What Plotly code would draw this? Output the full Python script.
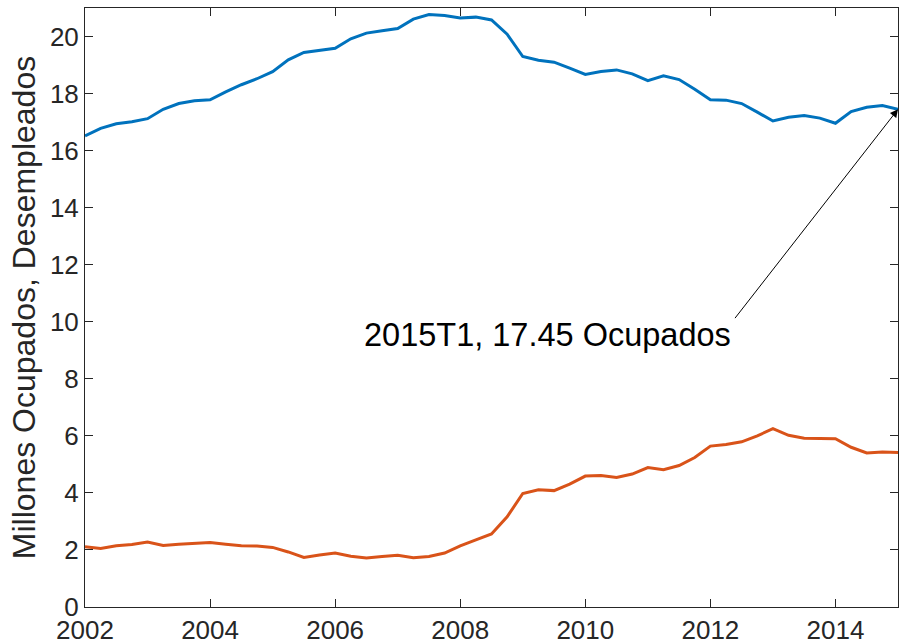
import plotly.graph_objects as go

years = [2002 + i / 4 for i in range(53)]

ocupados = [16.52, 16.78, 16.94, 17.01, 17.12, 17.45, 17.65, 17.75, 17.78, 18.06,
            18.31, 18.52, 18.77, 19.18, 19.44, 19.51, 19.59, 19.92, 20.12, 20.20,
            20.28, 20.61, 20.77, 20.74, 20.65, 20.68, 20.58, 20.08, 19.30, 19.17,
            19.10, 18.89, 18.67, 18.77, 18.83, 18.69, 18.45, 18.62, 18.49, 18.15,
            17.78, 17.77, 17.65, 17.35, 17.04, 17.17, 17.23, 17.14, 16.96, 17.37,
            17.52, 17.58, 17.45]

desempleados = [2.11, 2.05, 2.15, 2.19, 2.28, 2.16, 2.20, 2.23, 2.26, 2.20,
                2.15, 2.14, 2.09, 1.93, 1.74, 1.82, 1.89, 1.78, 1.72, 1.77,
                1.81, 1.73, 1.77, 1.89, 2.14, 2.35, 2.56, 3.16, 3.98, 4.11,
                4.08, 4.31, 4.59, 4.61, 4.54, 4.66, 4.89, 4.81, 4.96, 5.24,
                5.64, 5.70, 5.79, 6.00, 6.25, 6.02, 5.92, 5.91, 5.90, 5.60,
                5.40, 5.43, 5.42]

x_ticks = [2002, 2004, 2006, 2008, 2010, 2012, 2014]
y_ticks = [0, 2, 4, 6, 8, 10, 12, 14, 16, 18, 20]

y_title = "Millones Ocupados, Desempleados"
annot_text = "2015T1, 17.45 Ocupados"

FONT = "Liberation Sans, Arial, Helvetica, sans-serif"
AXC = "#262626"

fig = go.Figure()
fig.add_trace(go.Scatter(x=years, y=ocupados, mode="lines",
                         line=dict(color="#0072BD", width=3), showlegend=False))
fig.add_trace(go.Scatter(x=years, y=desempleados, mode="lines",
                         line=dict(color="#D95319", width=3), showlegend=False))

axis_common = dict(showgrid=False, zeroline=False, showline=True, mirror="ticks",
                   linecolor=AXC, linewidth=1, ticks="inside", ticklen=8,
                   tickcolor=AXC, tickwidth=1, automargin=False,
                   tickfont=dict(family=FONT, size=26, color=AXC))

fig.update_xaxes(range=[2002, 2015], tickvals=x_ticks,
                 ticktext=[str(t) for t in x_ticks], **axis_common)
fig.update_yaxes(range=[0, 21], tickvals=y_ticks,
                 ticktext=[str(t) for t in y_ticks],
                 title=dict(text=y_title, font=dict(family=FONT, size=32, color=AXC),
                            standoff=4),
                 **axis_common)

# arrow
fig.add_annotation(x=years[-1], y=ocupados[-1], xref="x", yref="y",
                   ax=2012.37, ay=10.06, axref="x", ayref="y",
                   text=" ", showarrow=True, arrowhead=2, arrowsize=1.6,
                   arrowwidth=1, arrowcolor="#000000", standoff=0, startstandoff=0,
                   font=dict(size=1))
# label
fig.add_annotation(x=2009.40, y=9.55, xref="x", yref="y", text=annot_text,
                   showarrow=False, xanchor="center", yanchor="middle",
                   font=dict(family=FONT, size=32.5, color="#000000"))

fig.update_layout(width=899, height=642,
                  margin=dict(l=85, r=1, t=8, b=35),
                  paper_bgcolor="white", plot_bgcolor="white")

fig.write_html("out.html",
               config={"displayModeBar": False},
               post_script="document.body.style.margin='0';"
                           "document.body.style.overflow='hidden';")
